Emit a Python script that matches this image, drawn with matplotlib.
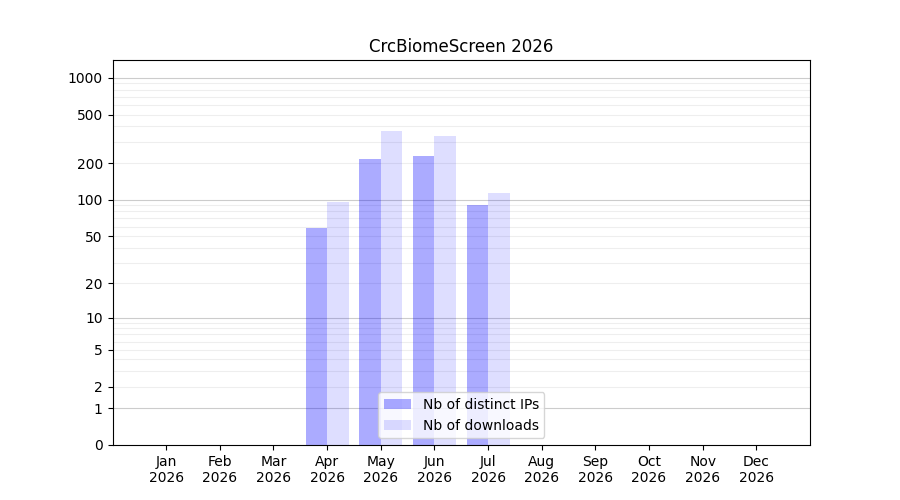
import numpy as np
import matplotlib
matplotlib.use("Agg")
import matplotlib.pyplot as plt

months = ["Jan", "Feb", "Mar", "Apr", "May", "Jun", "Jul", "Aug", "Sep", "Oct", "Nov", "Dec"]
year = 2026
nb_ips = [0, 0, 0, 58, 217, 230, 91, 0, 0, 0, 0, 0]
nb_downloads = [0, 0, 0, 96, 368, 335, 114, 0, 0, 0, 0, 0]
ytick_values = [0, 1, 2, 5, 10, 20, 50, 100, 200, 500, 1000]


def fwd(y):
    return np.log10(1 + np.clip(y, 0, None))


def inv(y):
    return 10 ** y - 1


fig, ax = plt.subplots(figsize=(9, 5), dpi=100)
x = np.arange(len(months))

# grid lines (decades darker, others lighter)
for d in [1, 10, 100, 1000]:
    ax.axhline(d, color="#cccccc", lw=0.8, zorder=0)
    for k in range(2, 10):
        if d * k < 1400:
            ax.axhline(d * k, color="#eeeeee", lw=0.8, zorder=0)

ax.bar(x - 0.2, nb_ips, width=0.4, color="blue", alpha=0.33, label="Nb of distinct IPs")
ax.bar(x + 0.2, nb_downloads, width=0.4, color="blue", alpha=0.13, label="Nb of downloads")

ax.set_yscale("function", functions=(fwd, inv))
ax.set_ylim(0, 1400)
ax.set_yticks(ytick_values)
ax.set_yticklabels([str(v) for v in ytick_values])
ax.yaxis.set_minor_locator(matplotlib.ticker.NullLocator())

ax.set_xlim(-1, 12)
ax.set_xticks(x)
ax.set_xticklabels([f"{m}\n{year}" for m in months])

ax.set_title(f"CrcBiomeScreen {year}")
ax.legend(loc="lower center")

fig.savefig("out.png")
